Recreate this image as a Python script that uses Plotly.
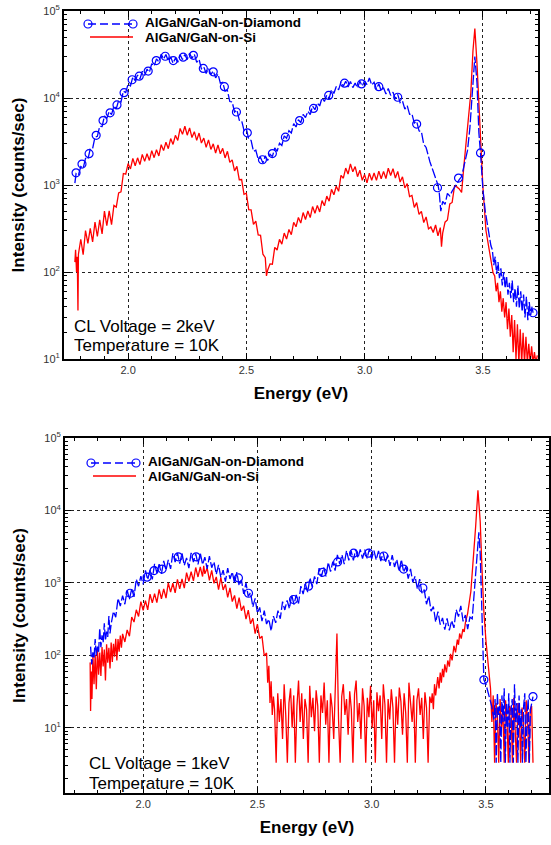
import plotly.graph_objects as go
from plotly.subplots import make_subplots

# ================= data: 2 keV (top panel) =================
e_dia_2kev = [1.775,
    1.78, 1.79, 1.80, 1.81, 1.82, 1.83, 1.84, 1.85, 1.86, 1.87,
    1.88, 1.89, 1.90, 1.91, 1.92, 1.93, 1.94, 1.95, 1.96, 1.97,
    1.98, 1.99, 2.00, 2.01, 2.02, 2.03, 2.04, 2.05, 2.06, 2.07,
    2.08, 2.09, 2.10, 2.11, 2.12, 2.13, 2.14, 2.15, 2.16, 2.17,
    2.18, 2.19, 2.20, 2.21, 2.22, 2.23, 2.24, 2.25, 2.26, 2.27,
    2.28, 2.29, 2.30, 2.31, 2.32, 2.33, 2.34, 2.35, 2.36, 2.37,
    2.38, 2.39, 2.40, 2.41, 2.42, 2.43, 2.44, 2.45, 2.46, 2.47,
    2.48, 2.49, 2.50, 2.51, 2.52, 2.53, 2.54, 2.55, 2.56, 2.57,
    2.58, 2.59, 2.60, 2.61, 2.62, 2.63, 2.64, 2.65, 2.66, 2.67,
    2.68, 2.69, 2.70, 2.71, 2.72, 2.73, 2.74, 2.75, 2.76, 2.77,
    2.78, 2.79, 2.80, 2.81, 2.82, 2.83, 2.84, 2.85, 2.86, 2.87,
    2.88, 2.89, 2.90, 2.91, 2.92, 2.93, 2.94, 2.95, 2.96, 2.97,
    2.98, 2.99, 3.00, 3.01, 3.02, 3.03, 3.04, 3.05, 3.06, 3.07,
    3.08, 3.09, 3.10, 3.11, 3.12, 3.13, 3.14, 3.15, 3.16, 3.17,
    3.18, 3.19, 3.20, 3.21, 3.22, 3.23, 3.24, 3.25, 3.26,
    3.276, 3.29, 3.30, 3.31, 3.315, 3.322, 3.33, 3.34, 3.35, 3.36, 3.37, 3.385, 3.40, 3.41, 3.42, 3.435,
    3.445, 3.455, 3.466, 3.475, 3.483, 3.49, 3.50, 3.51, 3.52, 3.534,
    3.54, 3.546, 3.552, 3.558, 3.564, 3.57, 3.576, 3.582, 3.588, 3.594, 3.60, 3.606, 3.612, 3.618, 3.624,
    3.63, 3.636, 3.642, 3.648, 3.654, 3.66, 3.666, 3.672, 3.678, 3.684, 3.69, 3.696, 3.702, 3.708, 3.712]
i_dia_2kev = [1050,
    1350, 1300, 1630, 1560, 2020, 1970, 2600, 2620, 3560, 3630,
    4730, 4690, 6210, 5830, 7000, 6440, 8100, 7530, 9350, 9020,
    11990, 11560, 14420, 13800, 17500, 15810, 18380, 16560, 20270, 18140,
    21410, 19780, 24840, 23250, 28140, 25940, 31830, 28010, 31590, 26500,
    29700, 25110, 28670, 25760, 31390, 27640, 31590, 27600, 32720, 28550,
    31820, 25760, 27800, 21620, 22790, 19140, 21920, 18600, 20480, 17020,
    18860, 14850, 15160, 11960, 12200, 9110, 9030, 6900, 7300, 5550,
    5510, 4230, 4430, 3350, 3260, 2440, 2510, 1970, 2070, 1790,
    2160, 1910, 2260, 2120, 2670, 2440, 3020, 2850, 3670, 3440,
    4200, 3960, 5070, 4650, 5620, 5200, 6480, 5950, 7040, 6440,
    8070, 7330, 8800, 8100, 10040, 9110, 10820, 9940, 12430, 11280,
    13570, 12420, 15340, 13670, 15540, 13340, 15480, 13160, 14840, 13060,
    15550, 13670, 15750, 14260, 17000, 14100, 15160, 12700, 14580, 12090,
    13130, 11130, 12860, 10720, 11660, 9750, 11020, 8840, 9240, 7450,
    8180, 6490, 6570, 5150, 5400, 4190, 4100, 2940, 2700,
    1850, 1450, 1150, 1000, 850, 500, 650, 600, 800, 750, 850, 1000, 1150, 1250, 1600, 2500,
    4500, 12000, 30000, 15000, 4000, 2300, 900, 500, 330, 200,
    180, 120, 150, 95, 130, 85, 110, 70, 100, 65, 90, 55, 75, 50, 80,
    45, 65, 40, 70, 38, 60, 35, 55, 30, 52, 28, 45, 32, 40, 34]

e_dia_2kev_marks = [1.78, 1.805, 1.835, 1.865, 1.894, 1.924, 1.953, 1.983, 2.017, 2.047, 2.085, 2.119, 2.157, 2.191,
                    2.233, 2.276, 2.318, 2.36, 2.407, 2.458, 2.504, 2.568, 2.61, 2.665, 2.725, 2.784, 2.848, 2.915,
                    2.987, 3.06, 3.14, 3.22, 3.308, 3.397, 3.49, 3.712]
i_dia_2kev_marks = [1380, 1740, 2290, 3720, 5500, 6760, 8320, 11500, 16200, 17800, 20400, 26900, 30200, 26900,
                    29500, 30900, 21900, 20000, 13500, 6900, 3980, 1950, 2300, 3550, 5500, 7590, 10700, 14800,
                    14500, 13500, 10200, 5010, 930, 1200, 2340, 34]

e_si_2kev = [1.775, 1.778, 1.782, 1.785, 1.788,
    1.79, 1.80, 1.81, 1.82, 1.83, 1.84, 1.85, 1.86, 1.87, 1.88,
    1.89, 1.90, 1.91, 1.92, 1.93, 1.94, 1.95, 1.96, 1.97, 1.98,
    1.99, 2.00, 2.01, 2.02, 2.03, 2.04, 2.05, 2.06, 2.07, 2.08,
    2.09, 2.10, 2.11, 2.12, 2.13, 2.14, 2.15, 2.16, 2.17, 2.18,
    2.19, 2.20, 2.21, 2.22, 2.23, 2.24, 2.25, 2.26, 2.27, 2.28,
    2.29, 2.30, 2.31, 2.32, 2.33, 2.34, 2.35, 2.36, 2.37, 2.38,
    2.39, 2.40, 2.41, 2.42, 2.43, 2.44, 2.45, 2.46, 2.47, 2.48,
    2.49, 2.50, 2.51, 2.52, 2.53, 2.54, 2.55, 2.56, 2.57, 2.58,
    2.585,
    2.59, 2.60, 2.61, 2.62, 2.63, 2.64, 2.65, 2.66, 2.67, 2.68,
    2.69, 2.70, 2.71, 2.72, 2.73, 2.74, 2.75, 2.76, 2.77, 2.78,
    2.79, 2.80, 2.81, 2.82, 2.83, 2.84, 2.85, 2.86, 2.87, 2.88,
    2.89, 2.90, 2.91, 2.92, 2.93, 2.94, 2.95, 2.96, 2.97, 2.98,
    2.99, 3.00, 3.01, 3.02, 3.03, 3.04, 3.05, 3.06, 3.07, 3.08,
    3.09, 3.10, 3.11, 3.12, 3.13, 3.14, 3.15, 3.16, 3.17, 3.18,
    3.19, 3.20, 3.21, 3.22, 3.23, 3.24, 3.25, 3.26, 3.27, 3.28,
    3.29, 3.30, 3.31, 3.32,
    3.325,
    3.33, 3.34, 3.35, 3.36, 3.37, 3.38, 3.39, 3.40, 3.41,
    3.42, 3.435, 3.449, 3.458, 3.466, 3.475, 3.483, 3.49, 3.50, 3.513, 3.528, 3.543,
    3.55, 3.556, 3.562, 3.568, 3.574, 3.58, 3.586, 3.592, 3.598, 3.604, 3.61, 3.616,
    3.622, 3.628, 3.634, 3.64, 3.646, 3.652, 3.658, 3.664, 3.67, 3.676, 3.682, 3.688, 3.694, 3.70, 3.706,
    3.712, 3.718, 3.724, 3.73]
i_si_2kev = [130, 180, 100, 150, 36,
    160, 238, 158, 299, 213, 318, 222, 375, 256, 397,
    274, 500, 340, 504, 351, 582, 558, 810, 836, 1356,
    1334, 1760, 1531, 2016, 1665, 2052, 1716, 2249, 1868, 2288,
    1914, 2486, 2061, 2538, 2156, 2904, 2484, 3102, 2617, 3416,
    2925, 3726, 3256, 4464, 3818, 4730, 3738, 4536, 3510, 4104,
    3256, 3955, 3036, 3465, 2715, 3304, 2565, 2970, 2332, 2882,
    2282, 2640, 2047, 2442, 1818, 1944, 1452, 1639, 1150, 1155,
    783, 806, 522, 518, 352, 384, 267, 264, 160, 146,
    90,
    105, 124, 123, 192, 179, 237, 209, 280, 239, 308,
    268, 373, 331, 424, 365, 482, 401, 502, 422, 565,
    474, 583, 490, 661, 576, 745, 651, 893, 773, 968,
    846, 1288, 1197, 1566, 1338, 1752, 1417, 1628, 1246, 1478,
    1134, 1318, 1056, 1367, 1132, 1375, 1130, 1445, 1179, 1436,
    1188, 1559, 1288, 1540, 1202, 1434, 1080, 1242, 924, 1040,
    736, 759, 552, 627, 459, 497, 370, 429, 313, 330,
    285, 347, 261, 324,
    195,
    280, 374, 396, 605, 630, 968, 950, 900, 820,
    1700, 4500, 11500, 35000, 63000, 25000, 9500, 3500, 950, 300, 180, 98,
    90, 60, 75, 45, 60, 35, 50, 30, 45, 22, 38, 18,
    32, 12, 28, 10, 25, 9, 22, 9, 20, 9, 18, 9, 15, 9, 14,
    9, 12, 9, 11]

# ================= data: 1 keV (bottom panel) =================
e_dia_1kev = [1.77, 1.775, 1.78, 1.785, 1.79, 1.795, 1.80, 1.805, 1.81, 1.815, 1.82, 1.825, 1.83, 1.835, 1.84,
    1.845, 1.85, 1.855, 1.86,
    1.87, 1.88, 1.89, 1.90, 1.91, 1.92, 1.93, 1.94, 1.95, 1.96,
    1.97, 1.98, 1.99, 2.00, 2.01, 2.02, 2.03, 2.04, 2.05, 2.06,
    2.07, 2.08, 2.09, 2.10, 2.11, 2.12, 2.13, 2.14, 2.15, 2.16,
    2.17, 2.18, 2.19, 2.20, 2.21, 2.22, 2.23, 2.24, 2.25, 2.26,
    2.27, 2.28, 2.29, 2.30, 2.31, 2.32, 2.33, 2.34, 2.35, 2.36,
    2.37, 2.38, 2.39, 2.40, 2.41, 2.42, 2.43, 2.44, 2.45, 2.46,
    2.47, 2.48, 2.49, 2.50, 2.51, 2.52, 2.53, 2.54, 2.55, 2.56,
    2.57, 2.58, 2.59, 2.60, 2.61, 2.62, 2.63, 2.64, 2.65, 2.66,
    2.67, 2.68, 2.69, 2.70, 2.71, 2.72, 2.73, 2.74, 2.75, 2.76,
    2.77, 2.78, 2.79, 2.80, 2.81, 2.82, 2.83, 2.84, 2.85, 2.86,
    2.87, 2.88, 2.89, 2.90, 2.91, 2.92, 2.93, 2.94, 2.95, 2.96,
    2.97, 2.98, 2.99, 3.00, 3.01, 3.02, 3.03, 3.04, 3.05, 3.06,
    3.07, 3.08, 3.09, 3.10, 3.11, 3.12, 3.13, 3.14, 3.15, 3.16,
    3.17, 3.18, 3.19, 3.20, 3.21, 3.22, 3.23, 3.24, 3.25, 3.26,
    3.27, 3.28, 3.29, 3.30, 3.31, 3.32, 3.33, 3.34, 3.35, 3.36,
    3.37, 3.38, 3.39, 3.40, 3.41, 3.42, 3.43, 3.44,
    3.45, 3.46, 3.469, 3.475, 3.482, 3.491, 3.50, 3.513, 3.525, 3.535,
    3.54, 3.545, 3.55, 3.555, 3.56, 3.565, 3.57, 3.575, 3.58, 3.585, 3.59, 3.595, 3.60, 3.605, 3.61, 3.615,
    3.62, 3.625, 3.63, 3.635, 3.64, 3.645, 3.65, 3.655, 3.66, 3.665, 3.67, 3.675, 3.68, 3.685, 3.69, 3.695,
    3.70, 3.706]
i_dia_1kev = [132, 75, 110, 90, 168, 100, 132, 110, 238, 130, 189, 150, 276, 160, 213,
    180, 348, 200, 272,
    403, 336, 612, 477, 667, 508, 792, 595, 829, 640,
    1125, 900, 1242, 959, 1488, 1105, 1512, 1120, 1838, 1377,
    1817, 1328, 2016, 1496, 2072, 1560, 2563, 1935, 2588, 1845,
    2580, 1743, 2218, 1600, 2600, 1935, 2530, 1804, 2580, 1785,
    2262, 1560, 2338, 1620, 1955, 1312, 1776, 1190, 1501, 1040,
    1600, 1134, 1415, 984, 1404, 918, 1098, 704, 1000, 648,
    736, 467, 612, 383, 459, 296, 413, 270, 316, 217,
    348, 281, 414, 320, 550, 423, 575, 443, 684, 502,
    683, 520, 900, 702, 966, 746, 1176, 876, 1232, 960,
    1600, 1215, 1633, 1230, 1920, 1428, 1960, 1480, 2438, 1827,
    2438, 1820, 2784, 2040, 2778, 2040, 2910, 2200, 2898, 2168,
    2878, 2185, 2944, 2142, 2789, 2083, 2760, 1998, 2645, 1913,
    2442, 1722, 2424, 1658, 2106, 1440, 2100, 1404, 1679, 1148,
    1560, 1020, 1232, 824, 1125, 720, 805, 508, 660, 408,
    470, 288, 400, 266, 328, 226, 324, 221, 302, 240,
    425, 342, 483, 295, 360, 230, 336, 320,
    900, 2500, 5000, 2500, 280, 46, 40, 27, 20, 13,
    25, 3.3, 30, 15, 20, 3.3, 28, 12, 35, 3.3, 22, 10, 30, 3.3, 18, 25,
    3.3, 40, 12, 22, 3.3, 28, 10, 18, 3.3, 20, 30, 3.3, 15, 25, 3.3, 18,
    22, 27]

e_dia_1kev_marks = [1.943, 2.017, 2.048, 2.083, 2.154, 2.232, 2.417, 2.461, 2.658, 2.724, 2.785, 2.851, 2.921,
                    2.987, 3.053, 3.14, 3.224, 3.491, 3.706]
i_dia_1kev_marks = [720, 1200, 1480, 1550, 2290, 2290, 1170, 720, 590, 900, 1400, 1950, 2570,
                    2570, 2350, 1550, 850, 46, 27]

e_si_1kev = [1.768, 1.77, 1.773, 1.776,
    1.78, 1.785, 1.79, 1.795, 1.80, 1.805, 1.81, 1.815, 1.82, 1.825,
    1.83, 1.835, 1.84, 1.845, 1.85, 1.855, 1.86, 1.865, 1.87, 1.875,
    1.88, 1.885, 1.89, 1.895, 1.90, 1.905,
    1.91, 1.92, 1.93, 1.94, 1.95, 1.96, 1.97, 1.98, 1.99, 2.00,
    2.01, 2.02, 2.03, 2.04, 2.05, 2.06, 2.07, 2.08, 2.09, 2.10,
    2.11, 2.12, 2.13, 2.14, 2.15, 2.16, 2.17, 2.18, 2.19, 2.20,
    2.21, 2.22, 2.23, 2.24, 2.25, 2.26,
    2.265,
    2.27, 2.28, 2.29, 2.30, 2.31, 2.32, 2.33, 2.34, 2.35, 2.36,
    2.37, 2.38, 2.39, 2.40, 2.41, 2.42, 2.43, 2.44, 2.45, 2.46,
    2.47, 2.48, 2.49, 2.50, 2.51, 2.52, 2.53, 2.54,
    2.545, 2.55, 2.555, 2.56, 2.565, 2.57,
    2.575, 2.582, 2.589, 2.596, 2.603, 2.610, 2.617, 2.624, 2.631, 2.638,
    2.645, 2.652, 2.659, 2.666, 2.673, 2.680, 2.687, 2.694, 2.701, 2.708,
    2.715, 2.722, 2.729, 2.736, 2.743, 2.750, 2.757, 2.764, 2.771, 2.778,
    2.785, 2.792, 2.799, 2.806, 2.813, 2.820, 2.827, 2.834, 2.841, 2.848,
    2.855, 2.862, 2.869, 2.876, 2.883, 2.890, 2.897, 2.904, 2.911, 2.918,
    2.925, 2.932, 2.939, 2.946, 2.953, 2.960, 2.967, 2.974, 2.981, 2.988,
    2.995, 3.002, 3.009, 3.016, 3.023, 3.030, 3.037, 3.044, 3.051, 3.058,
    3.065, 3.072, 3.079, 3.086, 3.093, 3.100, 3.107, 3.114, 3.121, 3.128,
    3.135, 3.142, 3.149, 3.156, 3.163, 3.170, 3.177, 3.184, 3.191, 3.198,
    3.205, 3.212, 3.219, 3.226, 3.233, 3.240, 3.247, 3.254, 3.261,
    3.265, 3.27, 3.275, 3.28, 3.289, 3.295, 3.30, 3.305, 3.31, 3.315,
    3.32, 3.327, 3.333, 3.34, 3.345, 3.352, 3.36, 3.367, 3.375, 3.38,
    3.385, 3.392, 3.399, 3.405, 3.41, 3.42, 3.434, 3.445, 3.455, 3.465,
    3.475, 3.483, 3.491, 3.50, 3.509, 3.515,
    3.52, 3.526, 3.532, 3.538, 3.544, 3.55, 3.556, 3.562, 3.568, 3.574, 3.58, 3.586, 3.592, 3.598, 3.604,
    3.61, 3.616, 3.622, 3.628, 3.634, 3.64, 3.646, 3.652, 3.658, 3.664, 3.67, 3.676, 3.682, 3.688, 3.694,
    3.70, 3.706]
i_si_1kev = [80, 17, 60, 25,
    104, 40, 102, 34, 122, 54, 109, 52, 130, 70,
    120, 45, 142, 79, 127, 66, 150, 81, 144, 96,
    169, 85, 168, 112, 188, 128,
    198, 153, 224, 184, 338, 288, 426, 344, 552, 417,
    571, 424, 700, 531, 713, 533, 816, 604, 829, 616,
    1000, 747, 989, 730, 1116, 825, 1131, 848, 1388, 1053,
    1426, 1066, 1632, 1207, 1658, 1224,
    1716,
    1332, 1610, 1082, 1488, 986, 1210, 808, 1188, 801, 955,
    631, 852, 553, 672, 440, 625, 414, 483, 316, 420,
    272, 325, 200, 269, 171, 184, 98, 108,
    42, 72, 22, 44, 15, 27,
    18, 3.3, 30, 12, 25, 7, 40, 15, 3.3, 22,
    35, 10, 28, 3.3, 20, 45, 12, 30, 7, 25,
    18, 3.3, 38, 14, 26, 9, 33, 20, 3.3, 28,
    16, 42, 11, 24, 3.3, 30, 19, 7, 36, 200,
    13, 3.3, 27, 40, 15, 25, 8, 32, 18, 3.3,
    29, 45, 12, 22, 7, 35, 20, 3.3, 26, 14,
    38, 10, 24, 3.3, 31, 17, 28, 7, 40, 21,
    3.3, 25, 13, 34, 19, 3.3, 27, 11, 36, 23,
    8, 30, 16, 3.3, 42, 20, 12, 28, 3.3, 24,
    35, 15, 26, 7, 31, 19, 3.3, 27, 22,
    30, 18, 40, 28, 50, 35, 58, 42, 65, 50,
    75, 58, 85, 70, 105, 85, 135, 110, 165, 140,
    200, 170, 230, 210, 280, 380, 760, 2000, 6000, 19000,
    7000, 1500, 400, 160, 87, 50,
    35, 12, 28, 3.3, 22, 15, 3.3, 25, 10, 18, 3.3, 24, 13, 3.3, 20,
    17, 3.3, 26, 11, 3.3, 22, 16, 3.3, 19, 12, 3.3, 24, 14, 3.3, 18,
    20, 3.3]

y_tick_vals = [10, 100, 1000, 10000, 100000]
y_tick_text = ["10<sup>1</sup>", "10<sup>2</sup>", "10<sup>3</sup>", "10<sup>4</sup>", "10<sup>5</sup>"]
x_tick_vals = [2.0, 2.5, 3.0, 3.5]
x_tick_text = ["2.0", "2.5", "3.0", "3.5"]
series_names = ["AlGaN/GaN-on-Diamond", "AlGaN/GaN-on-Si"]
conditions = [["CL Voltage = 2keV", "Temperature = 10K"], ["CL Voltage = 1keV", "Temperature = 10K"]]

for a, b in [(e_dia_2kev, i_dia_2kev), (e_si_2kev, i_si_2kev), (e_dia_1kev, i_dia_1kev),
             (e_si_1kev, i_si_1kev), (e_dia_2kev_marks, i_dia_2kev_marks), (e_dia_1kev_marks, i_dia_1kev_marks)]:
    assert len(a) == len(b), (len(a), len(b))

# ================= figure =================
W, H = 551, 845
BLUE, RED = "#0000ff", "#ff0000"
FONT = "Liberation Sans, Arial, sans-serif"

fig = make_subplots(rows=2, cols=1)

panels = [
    (e_dia_2kev, i_dia_2kev, e_dia_2kev_marks, i_dia_2kev_marks, e_si_2kev, i_si_2kev),
    (e_dia_1kev, i_dia_1kev, e_dia_1kev_marks, i_dia_1kev_marks, e_si_1kev, i_si_1kev),
]
for r, (ed, idd, em, im, es, isi) in enumerate(panels, start=1):
    fig.add_trace(go.Scatter(x=es, y=isi, mode="lines", line=dict(color=RED, width=1.3),
                             name=series_names[1], showlegend=False), row=r, col=1)
    fig.add_trace(go.Scatter(x=ed, y=idd, mode="lines", line=dict(color=BLUE, width=1.3, dash="10px,2.5px"),
                             name=series_names[0], showlegend=False), row=r, col=1)
    fig.add_trace(go.Scatter(x=em, y=im, mode="markers",
                             marker=dict(symbol="circle-open", size=8, color=BLUE, line=dict(width=1.2)),
                             name=series_names[0], showlegend=False), row=r, col=1)

def px2x(p):
    return p / W

def px2y(p):
    return 1 - p / H

# panel geometry in pixels: (left, right, top, bottom)
geom = [(64, 538, 11, 359), (65, 549, 438, 793)]
xranges = [[1.729, 3.733], [1.658, 3.776]]
yranges = [[1, 5], [0.1, 5]]

minor_y = [m * 10 ** k for k in range(0, 5) for m in range(2, 10)]

for i, (l, rgt, t, b) in enumerate(geom):
    xa = "xaxis" if i == 0 else "xaxis2"
    ya = "yaxis" if i == 0 else "yaxis2"
    fig.layout[xa].update(
        domain=[px2x(l), px2x(rgt)], range=xranges[i], tickmode="array", tickvals=x_tick_vals,
        ticktext=x_tick_text, ticks="inside", ticklen=6, tickwidth=1, tickcolor="black",
        showline=True, linewidth=2, linecolor="black", mirror="allticks",
        showgrid=True, gridcolor="#222", griddash="3px,3px", gridwidth=1, zeroline=False,
        minor=dict(dtick=0.1, ticks="inside", ticklen=3, tickcolor="black", showgrid=False),
        tickfont=dict(family=FONT, size=11, color="#333"),
        title=dict(text="<b>Energy (eV)</b>", font=dict(family=FONT, size=17, color="black"), standoff=12),
        automargin=False,
    )
    fig.layout[ya].update(
        domain=[px2y(b), px2y(t)], type="log", range=yranges[i], tickmode="array", tickvals=y_tick_vals,
        ticktext=y_tick_text, ticks="inside", ticklen=6, tickwidth=1, tickcolor="black",
        showline=True, linewidth=2, linecolor="black", mirror="allticks",
        showgrid=True, gridcolor="#222", griddash="3px,3px", gridwidth=1, zeroline=False,
        minor=dict(tickvals=minor_y, ticks="inside", ticklen=3, tickcolor="black", showgrid=False),
        tickfont=dict(family=FONT, size=11, color="#333"),
        title=dict(text="<b>Intensity (counts/sec)</b>", font=dict(family=FONT, size=17, color="black"),
                   standoff=14),
        automargin=False,
    )

# manual legends and condition labels (pixel positions)
legend_pos = [  # (line x0, line x1, text x, blue line y, red line y, text row1 y, text row2 y)
    (88, 133, 143, 24, 37, 22, 37),
    (91, 136, 146, 463, 476, 461, 476),
]
shapes = []
annotations = list(fig.layout.annotations)
for (x0, x1, tx, ly1, ly2, ty1, ty2) in legend_pos:
    shapes.append(dict(type="line", xref="paper", yref="paper", x0=px2x(x0), x1=px2x(x1), y0=px2y(ly1),
                       y1=px2y(ly1), line=dict(color=BLUE, width=1.5, dash="8px,4px")))
    for cx in (x0, x1):
        shapes.append(dict(type="circle", xref="paper", yref="paper", x0=px2x(cx - 4), x1=px2x(cx + 4),
                           y0=px2y(ly1 + 4), y1=px2y(ly1 - 4), line=dict(color=BLUE, width=1.2)))
    shapes.append(dict(type="line", xref="paper", yref="paper", x0=px2x(x0 + 2), x1=px2x(x1), y0=px2y(ly2),
                       y1=px2y(ly2), line=dict(color=RED, width=1.5)))
    for yy, name in ((ty1, series_names[0]), (ty2, series_names[1])):
        annotations.append(dict(xref="paper", yref="paper", x=px2x(tx), y=px2y(yy), xanchor="left",
                                yanchor="middle", showarrow=False, text="<b>" + name + "</b>", height=14,
                                font=dict(family=FONT, size=13.5, color="black")))

cond_pos = [(72, 326, 345), (87, 763, 783)]
for (cx, cy1, cy2), lines in zip(cond_pos, conditions):
    for yy, txt in zip((cy1, cy2), lines):
        annotations.append(dict(xref="paper", yref="paper", x=px2x(cx), y=px2y(yy), xanchor="left",
                                yanchor="middle", showarrow=False, text=txt, height=18,
                                font=dict(family=FONT, size=17, color="black")))

fig.update_layout(
    width=W, height=H, margin=dict(l=0, r=0, t=0, b=0), paper_bgcolor="white", plot_bgcolor="white",
    showlegend=False, shapes=shapes, annotations=annotations, font=dict(family=FONT),
)

fig.write_html("out.html", config={"displayModeBar": False},
               post_script="document.body.style.margin='0px';")
